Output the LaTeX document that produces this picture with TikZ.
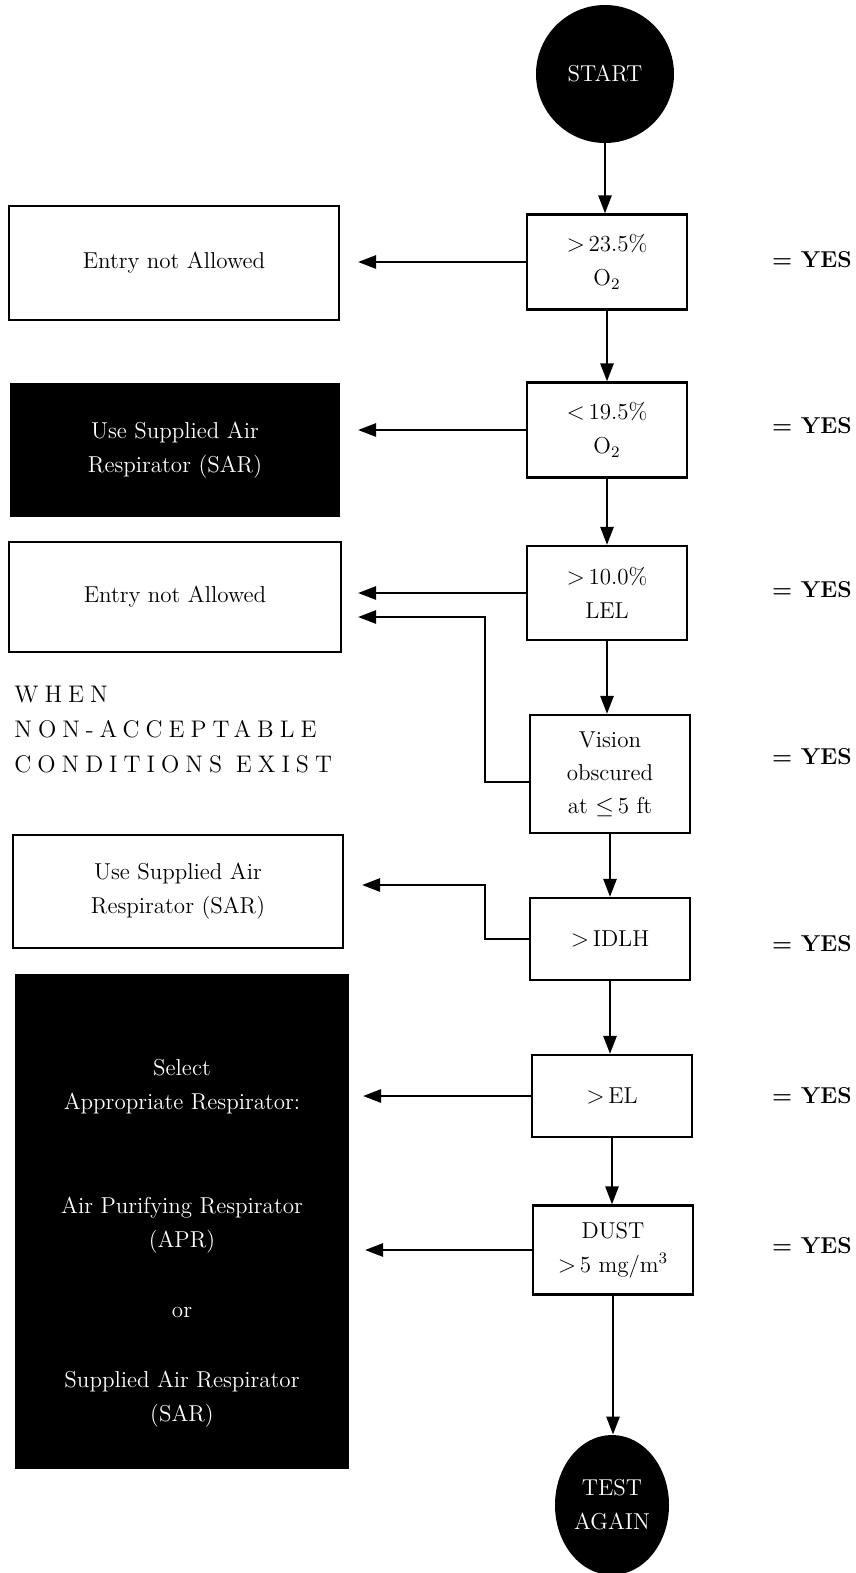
\documentclass[tikz,border=0pt]{standalone}
\usepackage{fontspec}
\usepackage{amsmath, amssymb}
\usetikzlibrary{positioning, arrows.meta, shapes.geometric, calc}
\newfontfamily\spacedfont[LetterSpace=25]{Latin Modern Roman}

\begin{document}
\begin{tikzpicture}[
    x=0.5pt, y=-0.5pt,
    font=\fontsize{11.5}{17}\selectfont,
    condbox/.style={rectangle, draw=black, line width=1.1pt, minimum width=80pt,
                    inner sep=2pt, align=center, fill=white},
    result/.style={rectangle, draw=black, line width=1pt, minimum width=165pt,
                   inner sep=3pt, align=center, fill=white},
    darkres/.style={result, fill=black, text=white},
    endpoint/.style={fill=black, text=white, align=center, inner sep=1pt},
    yes/.style={font=\fontsize{11.5}{14}\selectfont\bfseries},
    note/.style={font=\spacedfont\fontsize{12}{17.5}\selectfont,
                 align=left, inner sep=0pt},
    arr/.style={-{Triangle[length=9pt, width=6.5pt]}, line width=1.3pt},
]
    \useasboundingbox (0,0) rectangle (856,1573);

    % decision column
    \node[endpoint, circle, minimum size=69pt] (start) at (605,74) {START};
    \node[condbox, minimum height=47.5pt] (q1) at (607,262) {$>$\,23.5\%\\O$_2$};
    \node[condbox, minimum height=47.5pt] (q2) at (607,430) {$<$\,19.5\%\\O$_2$};
    \node[condbox, minimum height=47pt]   (q3) at (607,593) {$>$\,10.0\%\\LEL};
    \node[condbox, minimum height=59pt, font=\fontsize{11.5}{16.5}\selectfont]
        (q4) at (610,774) {Vision\\obscured\\at $\leq$\,5 ft};
    \node[condbox, minimum height=41pt]   (q5) at (610,939) {$>$\,IDLH};
    \node[condbox, minimum height=41pt]   (q6) at (612,1096) {$>$\,EL};
    \node[condbox, minimum height=44.5pt] (q7) at (613,1250) {DUST\\$>$\,5 mg/m$^3$};
    \node[endpoint, ellipse, minimum width=57pt, minimum height=70pt]
        (again) at (612,1505) {TEST\\AGAIN};

    % actions
    \node[result, minimum height=56.5pt] (res1) at (174,263) {Entry not Allowed};
    \node[darkres, minimum height=66pt, minimum width=164pt] (res2) at (175,450)
        {Use Supplied Air\\Respirator (SAR)};
    \node[result, minimum height=55pt, minimum width=166pt] (res3) at (175,597)
        {Entry not Allowed};
    \node[result, minimum height=56.5pt] (res4) at (178,891)
        {Use Supplied Air\\Respirator (SAR)};
    \node[darkres, minimum height=246.5pt, minimum width=166pt] (res5) at (182,1221) {};
    \node[text=white, align=center] (res5txt) at ([yshift=-11pt]res5.center)
        {Select\\Appropriate Respirator:\\[35pt]Air Purifying Respirator\\(APR)\\[18pt]
         or\\[18pt]Supplied Air Respirator\\(SAR)};

    \node[note, anchor=west] (when) at (14,730)
        {WHEN\\NON-ACCEPTABLE\\CONDITIONS EXIST};

    \foreach \i/\yy in {1/260, 2/426, 3/590, 4/757, 5/944, 6/1096, 7/1246}
        \node[yes] (yes\i) at (812,\yy) {= YES};

    % flow down
    \draw[arr] (start.south) -- (start.south |- q1.north);
    \draw[arr] (q1.south) -- (q1.south |- q2.north);
    \draw[arr] (q2.south) -- (q2.south |- q3.north);
    \draw[arr] (q3.south) -- (q3.south |- q4.north);
    \draw[arr] (q4.south) -- (q4.south |- q5.north);
    \draw[arr] (q5.south) -- (q5.south |- q6.north);
    \draw[arr] (q6.south) -- (q6.south |- q7.north);
    \draw[arr] (q7.south) -- (q7.south |- again.north);

    % yes branches
    \draw[arr] (q1.west) -- ($(res1.east |- q1.west)+(9pt,0)$);
    \draw[arr] (q2.west) -- ($(res2.east |- q2.west)+(9pt,0)$);
    \draw[arr] (q3.west) -- ($(res3.east |- q3.west)+(8pt,0)$);
    \coordinate (bend4) at (485,617);
    \draw[arr] ([yshift=-4pt]q4.west) -| (bend4) -- ($(res3.east |- bend4)+(8pt,0)$);
    \coordinate (bend5) at (485,885);
    \draw[arr] (q5.west) -| (bend5) -- ($(res4.east |- bend5)+(9pt,0)$);
    \draw[arr] (q6.west) -- ($(res5.east |- q6.west)+(7pt,0)$);
    \draw[arr] (q7.west) -- ($(res5.east |- q7.west)+(8pt,0)$);
\end{tikzpicture}
\end{document}
